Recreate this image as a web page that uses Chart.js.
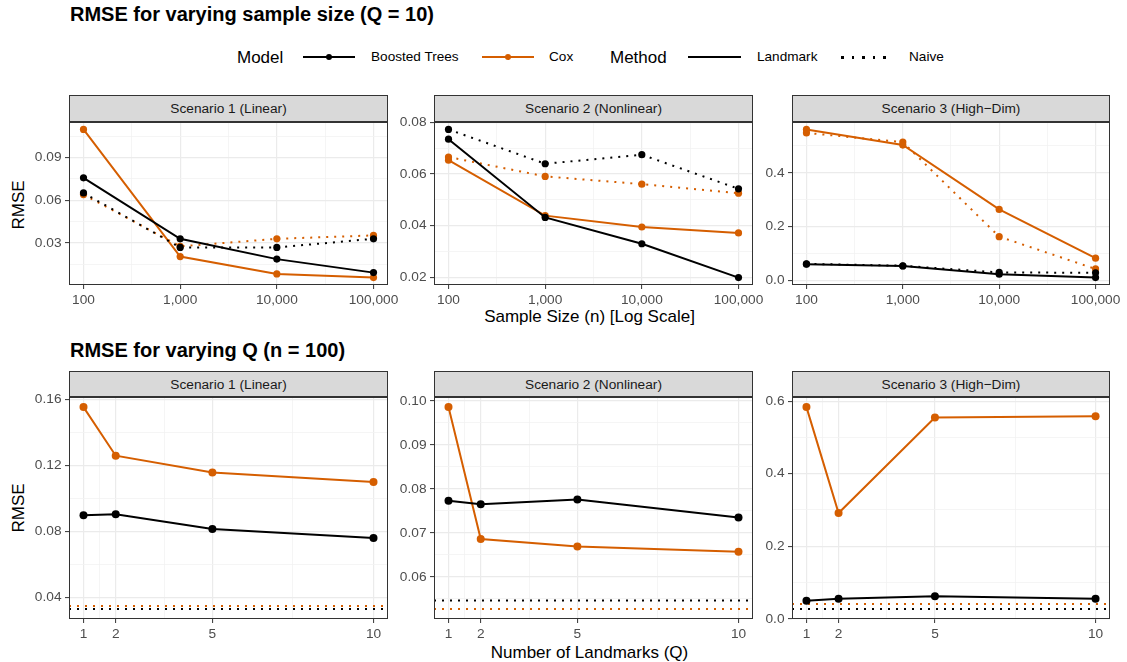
<!DOCTYPE html>
<html>
<head>
<meta charset="utf-8">
<script src="https://cdn.jsdelivr.net/npm/chart.js@4.4.1/dist/chart.umd.min.js"></script>
<style>
  body { margin: 0; width: 1127px; height: 662px; position: relative; overflow: hidden; background: #fff;
         font-family: "Liberation Sans", Arial, Helvetica, sans-serif; }
  .txt { position: absolute; white-space: nowrap; line-height: 1; }
  .title { font-size: 20px; font-weight: bold; color: #000; }
  .axis-title { font-size: 17px; color: #000; }
  .leg-title { font-size: 17px; color: #000; }
  .leg-label { font-size: 13.6px; color: #000; }
  .strip { position: absolute; box-sizing: border-box; border: 1px solid #333; background: #d9d9d9;
           color: #1a1a1a; font-size: 13.7px; display: flex; align-items: center; justify-content: center; }
  .key-line { position: absolute; height: 2px; }
  .key-dot { position: absolute; width: 6px; height: 6px; border-radius: 50%; }
  .key-sq { position: absolute; width: 2.5px; height: 2.5px; background: #000; }
  canvas { position: absolute; }
</style>
</head>
<body>
<div class="txt title" style="left:70px; top:4px;">RMSE for varying sample size (Q = 10)</div>
<div class="txt title" style="left:70px; top:340px;">RMSE for varying Q (n = 100)</div>

<!-- legend -->
<div class="txt leg-title" style="left:237px; top:48.7px;">Model</div>
<div class="key-line" style="left:303px; top:56px; width:52px; background:#000;"></div>
<div class="key-dot" style="left:326px; top:54px; background:#000;"></div>
<div class="txt leg-label" style="left:371px; top:50.3px;">Boosted Trees</div>
<div class="key-line" style="left:482px; top:56px; width:52px; background:#D55E00;"></div>
<div class="key-dot" style="left:505px; top:54px; background:#D55E00;"></div>
<div class="txt leg-label" style="left:549px; top:50.3px;">Cox</div>
<div class="txt leg-title" style="left:610px; top:48.7px;">Method</div>
<div class="key-line" style="left:688px; top:56px; width:53px; background:#000;"></div>
<div class="txt leg-label" style="left:757px; top:50.3px;">Landmark</div>
<div class="key-sq" style="left:841px; top:56px;"></div>
<div class="key-sq" style="left:851.5px; top:56px;"></div>
<div class="key-sq" style="left:862px; top:56px;"></div>
<div class="key-sq" style="left:872.5px; top:56px;"></div>
<div class="key-sq" style="left:883px; top:56px;"></div>
<div class="txt leg-label" style="left:909px; top:50.3px;">Naive</div>

<!-- strips -->
<div class="strip" style="left:69px; top:95px; width:319px; height:27px;">Scenario 1 (Linear)</div>
<div class="strip" style="left:434px; top:95px; width:319px; height:27px;">Scenario 2 (Nonlinear)</div>
<div class="strip" style="left:792px; top:95px; width:318px; height:27px;">Scenario 3 (High−Dim)</div>
<div class="strip" style="left:69px; top:371px; width:319px; height:26px;">Scenario 1 (Linear)</div>
<div class="strip" style="left:434px; top:371px; width:319px; height:26px;">Scenario 2 (Nonlinear)</div>
<div class="strip" style="left:792px; top:371px; width:318px; height:26px;">Scenario 3 (High−Dim)</div>

<!-- axis titles -->
<div class="txt axis-title" style="left:589.5px; top:308.4px; transform:translateX(-50%);">Sample Size (n) [Log Scale]</div>
<div class="txt axis-title" style="left:589.5px; top:644.4px; transform:translateX(-50%);">Number of Landmarks (Q)</div>
<div class="txt axis-title" style="left:17.5px; top:205px; transform:translate(-50%,-50%) rotate(-90deg);">RMSE</div>
<div class="txt axis-title" style="left:17.5px; top:508px; transform:translate(-50%,-50%) rotate(-90deg);">RMSE</div>

<script>
// x values
const sampleSizes = [100, 1000, 10000, 100000];
const landmarkQ = [1, 2, 5, 10];

// top row: RMSE by sample size (Q = 10)
const linearBoostLandmark = [0.0757, 0.0328, 0.0185, 0.0090];
const linearBoostNaive    = [0.0651, 0.0267, 0.0267, 0.0328];
const linearCoxLandmark   = [0.1098, 0.0203, 0.0081, 0.0055];
const linearCoxNaive      = [0.0639, 0.0275, 0.0328, 0.0352];

const nonlinBoostLandmark = [0.0735, 0.0432, 0.0330, 0.0199];
const nonlinBoostNaive    = [0.0773, 0.0640, 0.0675, 0.0543];
const nonlinCoxLandmark   = [0.0654, 0.0439, 0.0395, 0.0372];
const nonlinCoxNaive      = [0.0666, 0.0591, 0.0561, 0.0526];

const highdimBoostLandmark = [0.0607, 0.0540, 0.0237, 0.0110];
const highdimBoostNaive    = [0.0620, 0.0550, 0.0300, 0.0290];
const highdimCoxLandmark   = [0.561, 0.503, 0.264, 0.083];
const highdimCoxNaive      = [0.548, 0.514, 0.163, 0.043];

// bottom row: RMSE by number of landmarks (n = 100)
const qLinearBoost  = [0.0899, 0.0905, 0.0815, 0.0760];
const qLinearCox    = [0.1555, 0.1260, 0.1158, 0.1100];
const qNonlinBoost  = [0.0773, 0.0765, 0.0776, 0.0735];
const qNonlinCox    = [0.0986, 0.0686, 0.0669, 0.0657];
const qHighdimBoost = [0.0502, 0.0557, 0.0620, 0.0557];
const qHighdimCox   = [0.5835, 0.2916, 0.5550, 0.5585];
// naive reference lines (boosted, cox)
const qLinearNaive  = [0.0330, 0.0348];
const qNonlinNaive  = [0.0546, 0.0527];
const qHighdimNaive = [0.0274, 0.0410];

// tick labels
const nTicks = [100, 1000, 10000, 100000];
const qTicks = [1, 2, 5, 10];
const linearNTicks  = [0.03, 0.06, 0.09];
const nonlinNTicks  = [0.02, 0.04, 0.06, 0.08];
const highdimNTicks = [0.0, 0.2, 0.4];
const linearQTicks  = [0.04, 0.08, 0.12, 0.16];
const nonlinQTicks  = [0.06, 0.07, 0.08, 0.09, 0.10];
const highdimQTicks = [0.0, 0.2, 0.4, 0.6];

const FONT = '"Liberation Sans", Arial, Helvetica, sans-serif';
const BLACK = '#000000';
const ORANGE = '#D55E00';
const cols = [[69, 388], [434, 753], [792, 1110]];
const rows = [{ top: 122, bottom: 285 }, { top: 397, bottom: 619 }];
const AXIS_W = 62, AXIS_H = 30, PAD_TOP = 14, PAD_RIGHT = 34;

// ggplot-like 5% expansion
function expand(values, log) {
  const v = log ? values.map(Math.log10) : values;
  const lo = Math.min(...v), hi = Math.max(...v), pad = (hi - lo) * 0.05;
  return log ? [Math.pow(10, lo - pad), Math.pow(10, hi + pad)] : [lo - pad, hi + pad];
}

// major ticks + minor midpoints
function gridTicks(major, lo, hi, log) {
  const f = log ? Math.log10 : v => v;
  const g = log ? v => Math.pow(10, v) : v => v;
  const t = major.map(f);
  const bd = t[1] - t[0];
  const ext = [t[0] - bd, ...t, t[t.length - 1] + bd];
  const out = major.filter(v => v >= lo && v <= hi).map(v => ({ value: v, minor: false }));
  for (let i = 0; i < ext.length - 1; i++) {
    const m = g((ext[i] + ext[i + 1]) / 2);
    if (m > lo && m < hi) out.push({ value: m, minor: true });
  }
  return out.sort((a, b) => a.value - b.value);
}

const panelBox = {
  id: 'panelBox',
  beforeDatasetsDraw(chart, args, opts) {
    const { ctx, chartArea: a } = chart;
    (opts.lines || []).forEach(h => {
      const y = chart.scales.y.getPixelForValue(h.value);
      ctx.save();
      ctx.strokeStyle = h.color;
      ctx.lineWidth = 2;
      ctx.setLineDash([2, 6]);
      ctx.beginPath();
      ctx.moveTo(a.left, y);
      ctx.lineTo(a.right, y);
      ctx.stroke();
      ctx.restore();
    });
  },
  afterDraw(chart) {
    const { ctx, chartArea: a } = chart;
    ctx.save();
    ctx.strokeStyle = '#333333';
    ctx.lineWidth = 1;
    ctx.strokeRect(a.left + 0.5, a.top + 0.5, a.right - a.left - 1, a.bottom - a.top - 1);
    ctx.restore();
  }
};

function axisGrid() {
  return {
    color: c => (c.tick && c.tick.minor) ? '#f3f3f3' : '#ebebeb',
    lineWidth: c => (c.tick && c.tick.minor) ? 0.8 : 1.2,
    tickColor: c => (c.tick && c.tick.minor) ? 'rgba(0,0,0,0)' : '#333333',
    tickLength: 4,
    tickWidth: 1
  };
}

function makePanel(p) {
  const [l, r] = cols[p.col];
  const row = rows[p.row];
  const w = AXIS_W + (r - l) + PAD_RIGHT;
  const h = PAD_TOP + (row.bottom - row.top) + AXIS_H;
  const canvas = document.createElement('canvas');
  canvas.width = w; canvas.height = h;
  canvas.style.left = (l - AXIS_W) + 'px';
  canvas.style.top = (row.top - PAD_TOP) + 'px';
  canvas.style.width = w + 'px'; canvas.style.height = h + 'px';
  document.body.appendChild(canvas);

  const allY = p.series.flatMap(s => s.values).concat((p.hlines || []).map(x => x.value));
  const [yMin, yMax] = expand(allY, false);
  const [xMin, xMax] = expand(p.xs, p.log);
  const tickFont = { family: FONT, size: 13.7 };

  new Chart(canvas, {
    type: 'line',
    data: {
      datasets: p.series.map(s => ({
        data: p.xs.map((x, i) => ({ x, y: s.values[i] })),
        borderColor: s.color,
        backgroundColor: s.color,
        borderWidth: 2,
        borderDash: s.dotted ? [2, 6] : [],
        borderCapStyle: 'butt',
        pointRadius: p.row === 0 ? 3.6 : 4,
        pointBackgroundColor: s.color,
        pointBorderWidth: 0,
        tension: 0
      }))
    },
    options: {
      responsive: false,
      animation: false,
      devicePixelRatio: 1,
      events: [],
      layout: { padding: { top: PAD_TOP, right: PAD_RIGHT, left: 0, bottom: 0 } },
      plugins: {
        legend: { display: false },
        tooltip: { enabled: false },
        panelBox: { lines: p.hlines || [] }
      },
      scales: {
        x: {
          type: p.log ? 'logarithmic' : 'linear',
          min: xMin, max: xMax, bounds: 'data',
          afterBuildTicks: s => { s.ticks = gridTicks(p.xTicks, xMin, xMax, p.log); },
          afterFit: s => { s.height = AXIS_H; },
          border: { display: false },
          grid: axisGrid(),
          ticks: {
            autoSkip: false, maxRotation: 0, minRotation: 0, padding: 3.5,
            color: '#4d4d4d', font: tickFont,
            callback: (v, i, t) => t[i].minor ? '' : Number(v).toLocaleString('en-US')
          }
        },
        y: {
          type: 'linear',
          min: yMin, max: yMax, bounds: 'data',
          afterBuildTicks: s => { s.ticks = gridTicks(p.yTicks, yMin, yMax, false); },
          afterFit: s => { s.width = AXIS_W; },
          border: { display: false },
          grid: axisGrid(),
          ticks: {
            autoSkip: false, padding: 3.5,
            color: '#4d4d4d', font: tickFont,
            callback: (v, i, t) => t[i].minor ? '' : Number(v).toFixed(p.digits)
          }
        }
      }
    },
    plugins: [panelBox]
  });
}

const nSeries = (bl, bn, cl, cn) => [
  { values: bl, color: BLACK, dotted: false },
  { values: bn, color: BLACK, dotted: true },
  { values: cl, color: ORANGE, dotted: false },
  { values: cn, color: ORANGE, dotted: true }
];
const qSeries = (b, c) => [
  { values: b, color: BLACK, dotted: false },
  { values: c, color: ORANGE, dotted: false }
];
const naive = v => [{ value: v[0], color: BLACK }, { value: v[1], color: ORANGE }];

makePanel({ row: 0, col: 0, log: true, xs: sampleSizes, xTicks: nTicks, yTicks: linearNTicks, digits: 2,
  series: nSeries(linearBoostLandmark, linearBoostNaive, linearCoxLandmark, linearCoxNaive) });
makePanel({ row: 0, col: 1, log: true, xs: sampleSizes, xTicks: nTicks, yTicks: nonlinNTicks, digits: 2,
  series: nSeries(nonlinBoostLandmark, nonlinBoostNaive, nonlinCoxLandmark, nonlinCoxNaive) });
makePanel({ row: 0, col: 2, log: true, xs: sampleSizes, xTicks: nTicks, yTicks: highdimNTicks, digits: 1,
  series: nSeries(highdimBoostLandmark, highdimBoostNaive, highdimCoxLandmark, highdimCoxNaive) });

makePanel({ row: 1, col: 0, log: false, xs: landmarkQ, xTicks: qTicks, yTicks: linearQTicks, digits: 2,
  series: qSeries(qLinearBoost, qLinearCox), hlines: naive(qLinearNaive) });
makePanel({ row: 1, col: 1, log: false, xs: landmarkQ, xTicks: qTicks, yTicks: nonlinQTicks, digits: 2,
  series: qSeries(qNonlinBoost, qNonlinCox), hlines: naive(qNonlinNaive) });
makePanel({ row: 1, col: 2, log: false, xs: landmarkQ, xTicks: qTicks, yTicks: highdimQTicks, digits: 1,
  series: qSeries(qHighdimBoost, qHighdimCox), hlines: naive(qHighdimNaive) });
</script>
</body>
</html>
